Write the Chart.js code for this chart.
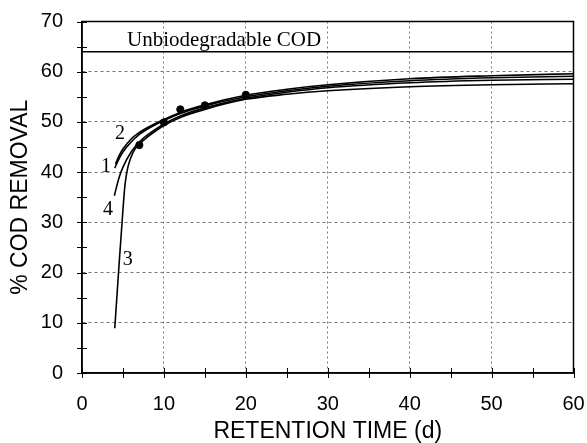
<!DOCTYPE html>
<html><head><meta charset="utf-8">
<script src="https://cdn.jsdelivr.net/npm/chart.js@4/dist/chart.umd.min.js"></script>
<style>html,body{margin:0;padding:0;background:#fff}#wrap{width:587px;height:443px}</style>
</head><body><div id="wrap"><canvas id="c" width="587" height="443"></canvas></div>
<script>
// ---- data ----
const curve1X = [4.0, 4.5, 5, 6, 7, 8, 10, 12, 15, 20, 25, 30, 40, 50, 60];
const curve1Y = [40.8, 42.6, 44.0, 46.0, 47.5, 48.6, 50.3, 51.7, 53.2, 55.0, 56.2, 57.1, 58.2, 58.8, 59.1];
const curve2X = [4.1, 4.5, 5, 6, 7, 8, 10, 12, 15, 20, 25, 30, 40, 50, 60];
const curve2Y = [41.6, 43.2, 44.6, 46.6, 47.9, 48.9, 50.5, 51.9, 53.4, 55.3, 56.5, 57.4, 58.6, 59.2, 59.6];
const curve3X = [4.0, 4.5, 5, 5.25, 5.6, 6.25, 7, 8, 10, 12, 15, 20, 25, 30, 40, 50, 60];
const curve3Y = [8.9, 21.0, 32.5, 37.5, 41.0, 44.0, 45.6, 47.0, 49.3, 50.9, 52.5, 54.5, 55.5, 56.2, 57.0, 57.4, 57.6];
const curve4X = [3.95, 4.5, 5, 6, 7, 8, 10, 12, 15, 20, 25, 30, 40, 50, 60];
const curve4Y = [35.3, 38.8, 41.0, 44.0, 46.0, 47.4, 49.6, 51.2, 52.8, 54.7, 55.9, 56.8, 57.8, 58.3, 58.5];
const pointsX = [7, 10, 12, 15, 20];
const pointsY = [45.4, 49.9, 52.5, 53.3, 55.4];
const unbiodegradableCOD = 64;
const curveNames = ['1', '2', '3', '4'];
const xTickLabels = [0, 10, 20, 30, 40, 50, 60];
const yTickLabels = [0, 10, 20, 30, 40, 50, 60, 70];

// ---- annotation anchors (data coordinates) ----
const curveLabelAnchors = [[2.93, 41.1], [4.63, 47.7], [5.6, 22.5], [3.17, 32.5]];
const unbioTextAnchor = [5.49, 65.2];

const pairs = (xs, ys) => xs.map((v, i) => ({x: v, y: ys[i]}));
const curveStyle = {showLine: true, pointRadius: 0, borderColor: '#000', borderWidth: 1.6,
  cubicInterpolationMode: 'monotone', fill: false};

const decor = {
  id: 'decor',
  afterDraw(chart) {
    const {ctx, chartArea: {left, right, top, bottom}, scales: {x, y}} = chart;
    ctx.save();
    ctx.strokeStyle = '#000';
    ctx.lineWidth = 1;
    ctx.beginPath();
    x.ticks.forEach(t => {
      const px = Math.round(x.getPixelForValue(t.value)) + 0.5;
      ctx.moveTo(px, bottom + 5); ctx.lineTo(px, bottom - 5);
    });
    y.ticks.forEach(t => {
      const py = Math.round(y.getPixelForValue(t.value)) + 0.5;
      ctx.moveTo(left - 5, py); ctx.lineTo(left + 5, py);
    });
    ctx.stroke();
    ctx.lineWidth = 1.5;
    ctx.strokeRect(left, top, right - left, bottom - top);

    ctx.fillStyle = '#000';
    ctx.font = '21px "Liberation Serif", "Times New Roman", serif';
    ctx.textAlign = 'left';
    ctx.textBaseline = 'alphabetic';
    ctx.fillText('Unbiodegradable COD', x.getPixelForValue(unbioTextAnchor[0]), y.getPixelForValue(unbioTextAnchor[1]));

    ctx.font = '20px "Liberation Serif", "Times New Roman", serif';
    ctx.textAlign = 'center';
    ctx.textBaseline = 'middle';
    curveNames.forEach((n, i) => {
      const [ax, ay] = curveLabelAnchors[i];
      ctx.fillText(n, x.getPixelForValue(ax), y.getPixelForValue(ay));
    });
    ctx.restore();
  }
};

const tickFont = {family: '"Liberation Sans", Arial, sans-serif', size: 20};
const titleFont = {family: '"Liberation Sans", Arial, sans-serif', size: 23};

const chart = new Chart(document.getElementById('c'), {
  type: 'scatter',
  data: {
    datasets: [
      Object.assign({label: '1', data: pairs(curve1X, curve1Y)}, curveStyle),
      Object.assign({label: '2', data: pairs(curve2X, curve2Y)}, curveStyle),
      Object.assign({label: '3', data: pairs(curve3X, curve3Y)}, curveStyle),
      Object.assign({label: '4', data: pairs(curve4X, curve4Y)}, curveStyle),
      {label: 'data', data: pairs(pointsX, pointsY), pointRadius: 3.6, pointBackgroundColor: '#000',
       pointBorderColor: '#000', showLine: false},
      {label: 'Unbiodegradable COD', data: [{x: 0, y: unbiodegradableCOD}, {x: 60, y: unbiodegradableCOD}],
       showLine: true, pointRadius: 0, borderColor: '#000', borderWidth: 1.5}
    ]
  },
  options: {
    responsive: false,
    animation: false,
    devicePixelRatio: 1,
    layout: {padding: {top: 21.5, right: 13.5, left: 0, bottom: 0}},
    plugins: {legend: {display: false}, tooltip: {enabled: false}},
    scales: {
      x: {
        type: 'linear', min: 0, max: 60,
        afterFit: s => { s.height = 70; },
        ticks: {stepSize: 5, autoSkip: false, maxRotation: 0, padding: 0, color: '#000', font: tickFont,
          callback: v => xTickLabels.includes(v) ? String(v) : ''},
        grid: {
          color: c => (c.tick && c.tick.value % 10 === 0 && c.tick.value > 0 && c.tick.value < 60) ? '#777' : 'rgba(0,0,0,0)',
          lineWidth: 1, tickLength: 19, tickColor: 'rgba(0,0,0,0)', drawTicks: true
        },
        border: {display: true, color: '#000', width: 1.5, dash: [2, 3]},
        title: {display: true, text: 'RETENTION TIME (d)', color: '#000', font: titleFont, padding: {top: 0, bottom: -2}}
      },
      y: {
        type: 'linear', min: 0, max: 70,
        afterFit: s => { s.width = 82; },
        ticks: {stepSize: 5, autoSkip: false, padding: 0, color: '#000', font: tickFont,
          callback: v => yTickLabels.includes(v) ? String(v) : ''},
        grid: {
          color: c => (c.tick && c.tick.value % 10 === 0 && c.tick.value > 0 && c.tick.value < 70) ? '#777' : 'rgba(0,0,0,0)',
          lineWidth: 1, tickLength: 19, tickColor: 'rgba(0,0,0,0)', drawTicks: true
        },
        border: {display: true, color: '#000', width: 1.5, dash: [3, 3]},
        title: {display: true, text: '% COD REMOVAL', color: '#000', font: titleFont, padding: {top: 7, bottom: 0}}
      }
    }
  },
  plugins: [decor]
});
</script></body></html>
